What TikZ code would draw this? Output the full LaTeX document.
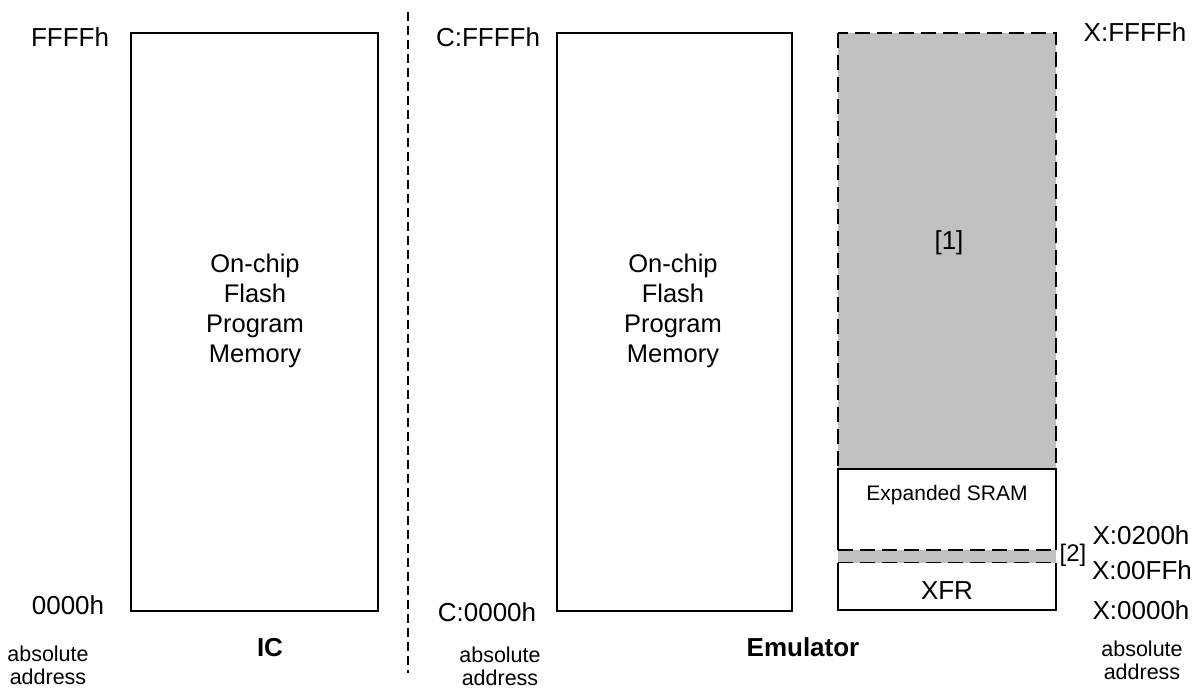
\documentclass[tikz,border=0pt]{standalone}
\usepackage{fontspec}
\setmainfont{Liberation Sans}
\definecolor{regiongray}{HTML}{C0C0C0}
\begin{document}
\begin{tikzpicture}[x=1pt,y=-1pt,
  memrect/.style={draw=black, line width=2pt, fill=white, inner sep=0pt},
  blankbox/.style={inner sep=0pt, outer sep=0pt},
  dashline/.style={draw=black, line width=2pt, dash pattern=on 15pt off 7pt},
  divider/.style={draw=black, line width=1.5pt, dash pattern=on 9pt off 5pt},
  addr/.style={inner sep=0pt, anchor=base, font=\fontsize{26}{31}\selectfont},
  note/.style={inner sep=0pt, anchor=base, align=center, font=\fontsize{21.5}{23}\selectfont},
  heading/.style={inner sep=0pt, anchor=base, font=\fontsize{26}{31}\selectfont\bfseries},
  body/.style={inner sep=0pt, anchor=base, align=center, font=\fontsize{25.5}{30}\selectfont}]
\useasboundingbox (0,0) rectangle (1197,688);

% ---------- IC side ----------
\node[memrect, minimum width=247pt, minimum height=578pt] (ic) at (254.5,322) {};
\node[body] (ictext) at (255,362) {On-chip\\Flash\\Program\\Memory};
\node[addr] (icTop) at (70,46) {FFFFh};
\node[addr] (icBot) at (68,614) {0000h};
\node[heading] (icTitle) at (270,656) {IC};
\node[note] (icAbs) at (48,684) {absolute\\address};

% ---------- divider ----------
\coordinate (divtop) at (408,12);
\coordinate (divbot) at (408,673);
\draw[divider] (divtop) -- (divbot);

% ---------- Emulator: code memory ----------
\node[memrect, minimum width=235pt, minimum height=578pt] (code) at (674.5,322) {};
\node[body] (codetext) at (673,362) {On-chip\\Flash\\Program\\Memory};
\node[addr] (cTop) at (488,46) {C:FFFFh};
\node[addr] (cBot) at (487,621) {C:0000h};
\node[note] (cAbs) at (500,685) {absolute\\address};
\node[heading] (emuTitle) at (803,656) {Emulator};

% ---------- Emulator: external memory ----------
\node[blankbox, fill=regiongray, minimum width=218pt, minimum height=436pt] (grayreg) at (947,251) {};
\draw[dashline] (grayreg.north west) rectangle (grayreg.south east);
\node[addr] (one) at (949,249) {[1]};

\node[blankbox, fill=white, minimum width=218pt, minimum height=81pt] (sram) at (947,509.5) {};
\draw[line width=2pt] (sram.south west) |- (sram.north east) -- (sram.south east);
\node[inner sep=0pt, anchor=base, font=\fontsize{21}{25}\selectfont] (sramtext) at (947,500.5) {Expanded SRAM};

\node[blankbox, fill=regiongray, minimum width=218pt, minimum height=13pt] (band) at (947,556.5) {};
\draw[dashline] (band.north west) -- (band.north east);
\draw[dashline] (band.south west) -- (band.south east);
\node[inner sep=0pt, anchor=base, font=\fontsize{24}{28}\selectfont] (two) at (1073,561) {[2]};

\node[blankbox, fill=white, minimum width=218pt, minimum height=47pt] (xfr) at (947,586.5) {};
\draw[line width=2pt] (xfr.north west) |- (xfr.south east) -- (xfr.north east);
\node[addr] (xfrtext) at (947,599) {XFR};

\node[addr] (xTop) at (1135,41) {X:FFFFh};
\node[addr] (x200) at (1141,544) {X:0200h};
\node[addr] (xff) at (1142,579) {X:00FFh};
\node[addr] (x000) at (1141,619) {X:0000h};
\node[note] (xAbs) at (1142,679) {absolute\\address};
\end{tikzpicture}
\end{document}
